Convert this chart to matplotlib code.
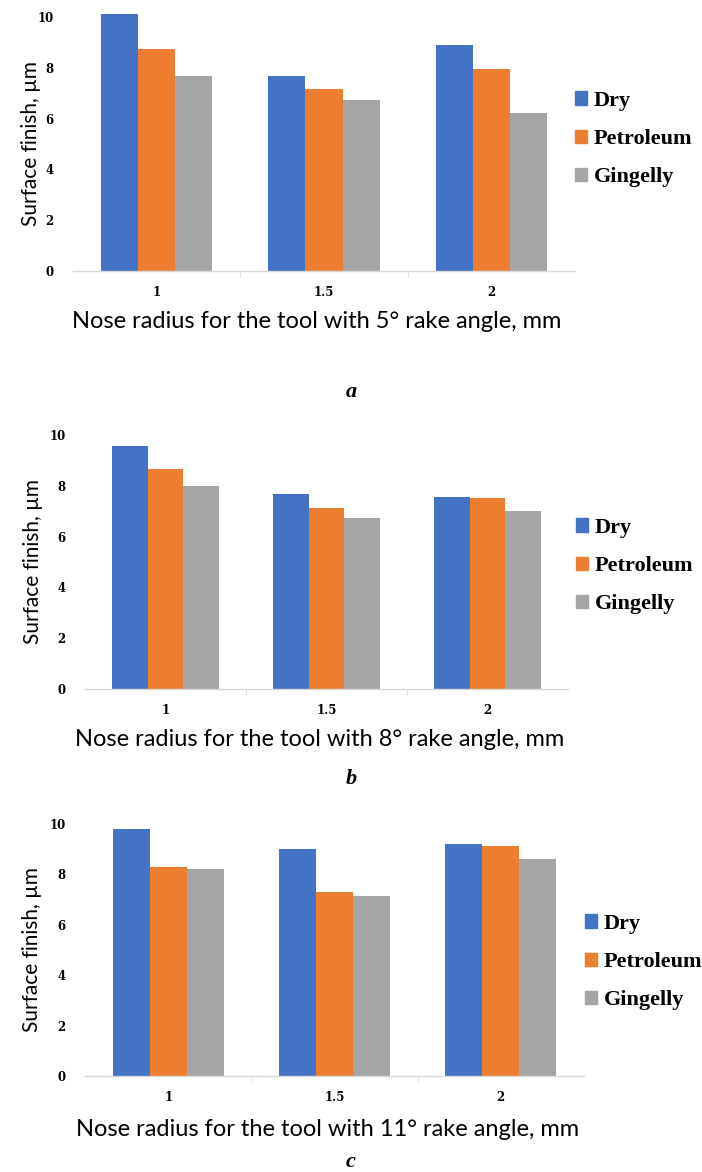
import numpy as np
import matplotlib
matplotlib.use("Agg")
import matplotlib.pyplot as plt
from matplotlib.patches import Patch

radii = ["1", "1.5", "2"]
series = ["Dry", "Petroleum", "Gingelly"]
colors = ["#4472C4", "#ED7D31", "#A5A5A5"]

# surface finish (µm)
dry_5 = [10.13, 7.68, 8.89]
pet_5 = [8.74, 7.15, 7.95]
gin_5 = [7.69, 6.74, 6.21]

dry_8 = [9.58, 7.66, 7.54]
pet_8 = [8.65, 7.13, 7.50]
gin_8 = [7.98, 6.75, 7.01]

dry_11 = [9.79, 9.00, 9.22]
pet_11 = [8.31, 7.29, 9.12]
gin_11 = [8.21, 7.16, 8.61]

angles = ["5", "8", "11"]
letters = ["a", "b", "c"]

W, H = 702, 1172
fig = plt.figure(figsize=(W / 100, H / 100), dpi=100)


def fx(px):
    return px / W


def fy(py):
    return 1 - py / H


# axes boxes in pixels: left, right, y_top(10), y_zero
boxes = [(73, 575, 17, 271), (85, 568, 435, 689), (85, 584, 824, 1076)]
legend_pos = [(575, 100), (576, 527), (585, 923)]
xlabel_y = [321, 739, 1130]
letter_y = [392, 779, 1162]
ylabel_right = [41, 43, 42]

data = [(dry_5, pet_5, gin_5), (dry_8, pet_8, gin_8), (dry_11, pet_11, gin_11)]

label_font = "Lato"
x = np.arange(len(radii))
bw = 0.222

for i, (l, r, t, b) in enumerate(boxes):
    ax = fig.add_axes([fx(l), fy(b), fx(r - l), (b - t) / H])
    for k, vals in enumerate(data[i]):
        ax.bar(x + (k - 1) * bw, vals, bw, color=colors[k], label=series[k], clip_on=False)
    ax.set_xlim(-0.5, 2.5)
    ax.set_ylim(0, 10)
    ax.set_yticks([0, 2, 4, 6, 8, 10])
    ax.set_xticks(x)
    ax.set_xticklabels(radii)
    for s in ["left", "right", "top"]:
        ax.spines[s].set_visible(False)
    ax.spines["bottom"].set_color("#D9D9D9")
    ax.spines["bottom"].set_linewidth(1.0)
    ax.set_xticks([0.5, 1.5], minor=True)
    ax.tick_params(axis="x", which="major", length=0, pad=11)
    ax.tick_params(axis="x", which="minor", length=4, color="#D9D9D9")
    ax.tick_params(axis="y", length=0, pad=14)
    for lab in ax.get_xticklabels() + ax.get_yticklabels():
        lab.set_fontfamily("DejaVu Serif")
        lab.set_fontweight("bold")
        lab.set_fontsize(8.5)
    ax.set_ylabel("Surface finish, µm", fontsize=15, family=label_font)
    ax.yaxis.set_label_coords((ylabel_right[i] - l) / (r - l), 0.5)

    fig.text(fx((l + r) / 2 - 7), fy(xlabel_y[i]),
             "Nose radius for the tool with %s° rake angle, mm" % angles[i],
             fontsize=17, family=label_font, ha="center", va="center")
    fig.text(0.5, fy(letter_y[i]), letters[i], fontsize=16, family="Liberation Serif",
             style="italic", weight="bold", ha="center", va="center")

    handles = [Patch(color=c) for c in colors]
    lx, ly = legend_pos[i]
    fig.legend(handles, series, loc="upper left", bbox_to_anchor=(fx(lx), fy(ly - 9)),
               frameon=False, handlelength=0.55, handleheight=0.55, handletextpad=0.3,
               labelspacing=0.82, borderaxespad=0, borderpad=0,
               prop=dict(family="Liberation Serif", weight="bold", size=16))

fig.savefig("out.png", dpi=100)
